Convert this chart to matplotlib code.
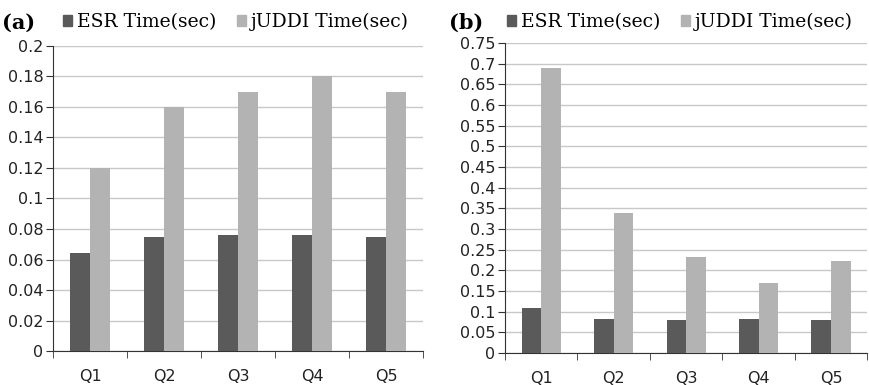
import numpy as np
import matplotlib
matplotlib.use('Agg')
import matplotlib.pyplot as plt
from matplotlib.patches import Patch

queries = ['Q1', 'Q2', 'Q3', 'Q4', 'Q5']
esr_a = [0.064, 0.075, 0.076, 0.076, 0.075]
uddi_a = [0.12, 0.16, 0.17, 0.18, 0.17]
esr_b = [0.11, 0.083, 0.081, 0.083, 0.081]
uddi_b = [0.69, 0.34, 0.232, 0.17, 0.222]
yticks_a = np.arange(0, 0.2001, 0.02)
yticks_b = np.arange(0, 0.7501, 0.05)
ylabels_a = ['0', '0.02', '0.04', '0.06', '0.08', '0.1', '0.12', '0.14', '0.16', '0.18', '0.2']
ylabels_b = ['0', '0.05', '0.1', '0.15', '0.2', '0.25', '0.3', '0.35', '0.4', '0.45',
             '0.5', '0.55', '0.6', '0.65', '0.7', '0.75']

dark = '#5a5a5a'
light = '#b3b3b3'
tick_font = 'DejaVu Sans'
leg_font = 'DejaVu Serif'

fig = plt.figure(figsize=(8.69, 3.85), dpi=100)
ax1 = fig.add_axes([0.061, 0.088, 0.426, 0.793])
ax2 = fig.add_axes([0.581, 0.083, 0.417, 0.805])


def draw(ax, esr, uddi, yticks, ylabels, tag, tagx, legx):
    x = np.arange(len(queries))
    w = 0.27
    ax.bar(x - w / 2, esr, w, color=dark, zorder=3)
    ax.bar(x + w / 2, uddi, w, color=light, zorder=3)
    ax.set_xlim(-0.5, len(queries) - 0.5)
    ax.set_ylim(0, yticks[-1])
    ax.set_yticks(yticks)
    ax.set_yticklabels(ylabels, fontfamily=tick_font, fontsize=11.5, color='#222222')
    ax.yaxis.grid(True, color='#c8c8c8', linewidth=1, zorder=0)
    ax.set_xticks(x)
    ax.set_xticklabels(queries, fontfamily=tick_font, fontsize=11.5, color='#222222')
    ax.set_xticks(np.arange(-0.5, len(queries)), minor=True)
    ax.tick_params(axis='x', which='major', length=0, pad=13)
    ax.tick_params(axis='x', which='minor', length=5, color='#333333')
    ax.tick_params(axis='y', length=5, color='#333333', pad=2)
    for s in ['top', 'right']:
        ax.spines[s].set_visible(False)
    ax.spines['left'].set_color('#333333')
    ax.spines['bottom'].set_color('#333333')
    fig.text(tagx, 0.942, tag, fontfamily=leg_font, fontweight='bold', fontsize=15,
             va='center', ha='left')
    handles = [Patch(color=dark), Patch(color=light)]
    fig.legend(handles, ['ESR Time(sec)', 'jUDDI Time(sec)'], ncol=2, frameon=False,
               loc='center left', bbox_to_anchor=(legx, 0.942), handlelength=0.5,
               handleheight=0.5, handletextpad=0.25, columnspacing=1.1,
               borderpad=0, borderaxespad=0,
               prop={'family': leg_font, 'size': 13.5})


draw(ax1, esr_a, uddi_a, yticks_a, ylabels_a, '(a)', 0.002, 0.0725)
draw(ax2, esr_b, uddi_b, yticks_b, ylabels_b, '(b)', 0.517, 0.583)

plt.savefig('out.png', dpi=100)
